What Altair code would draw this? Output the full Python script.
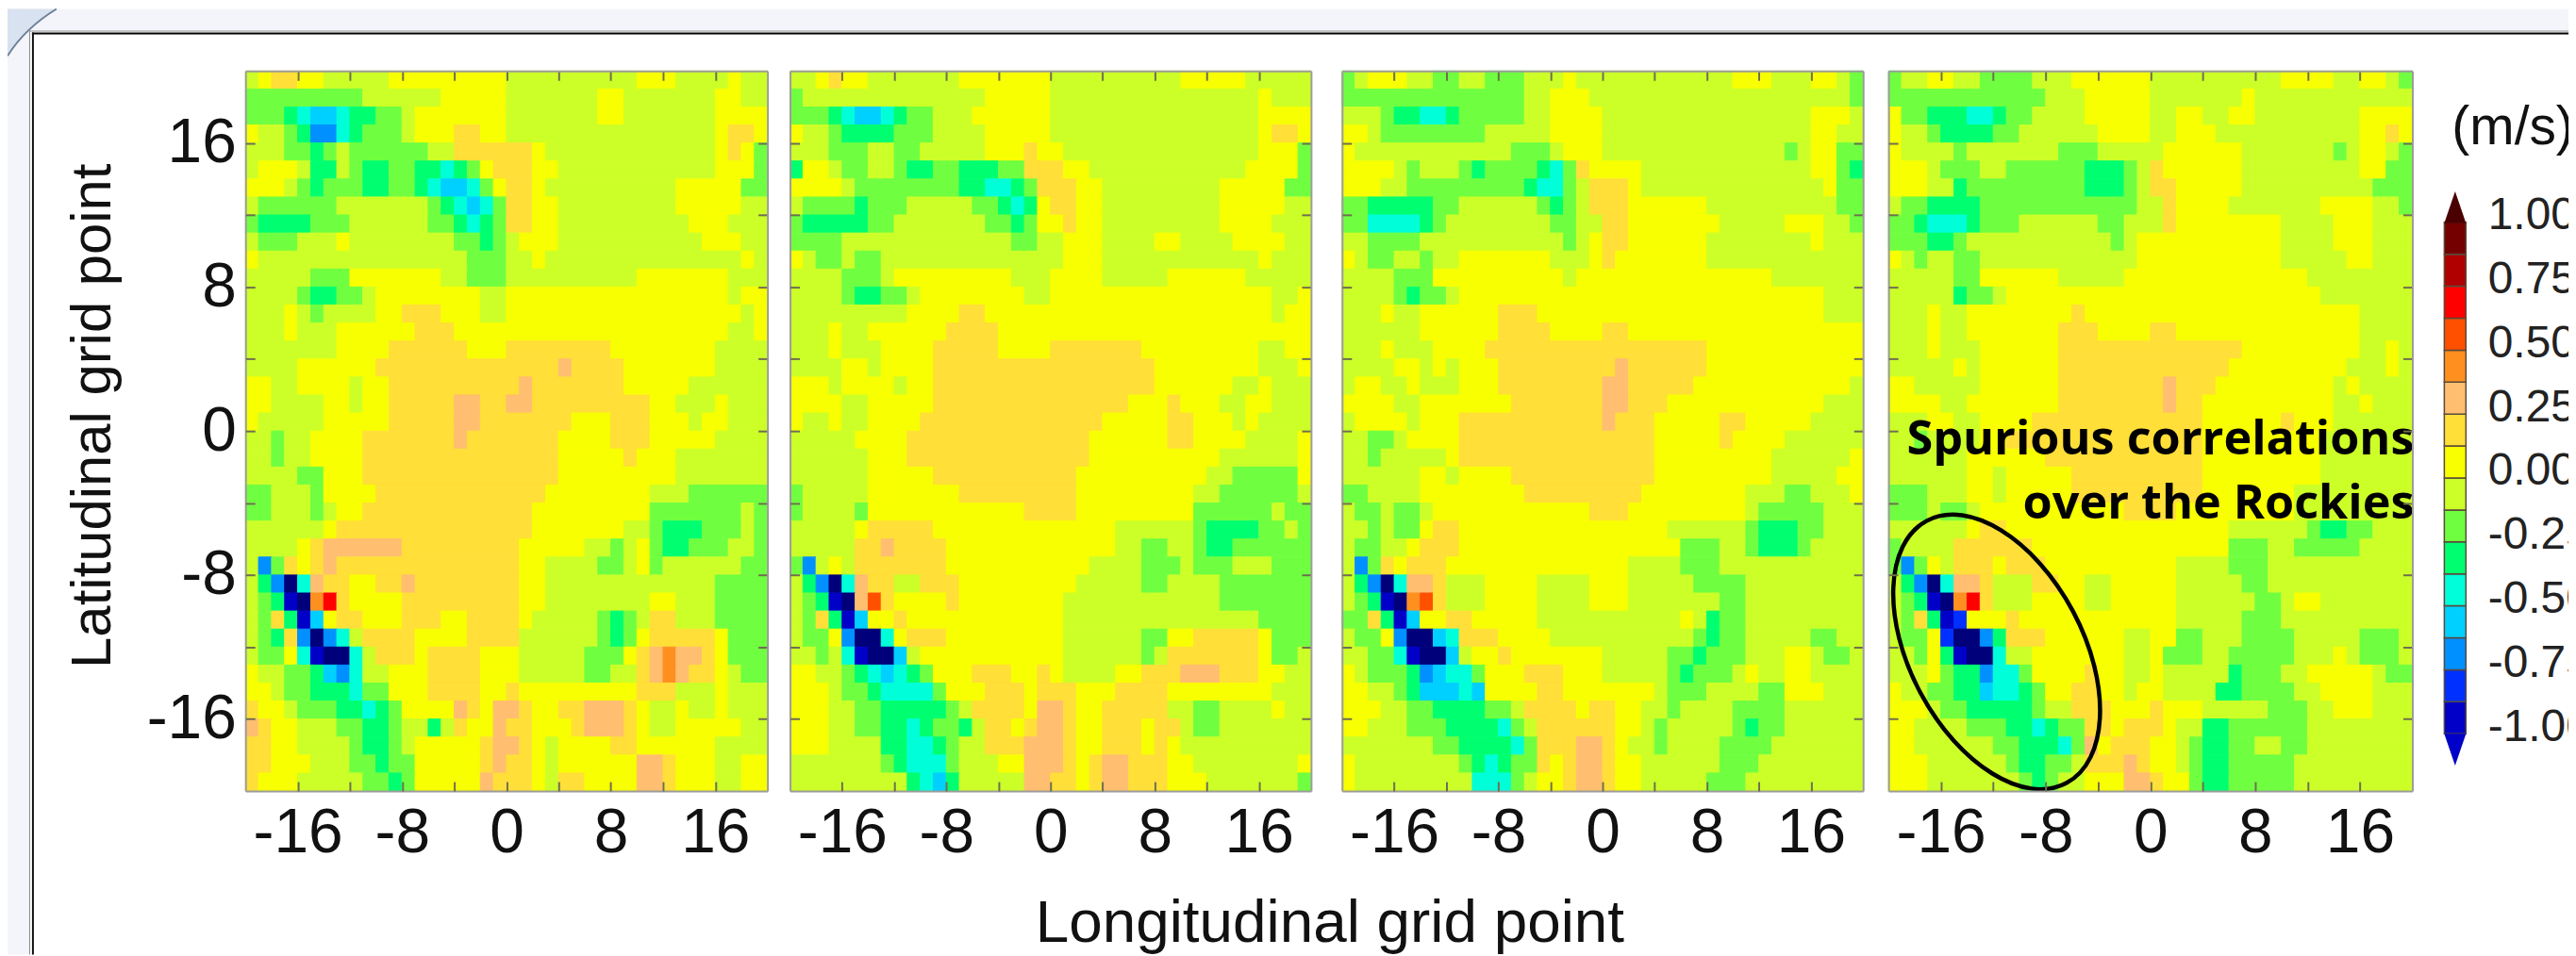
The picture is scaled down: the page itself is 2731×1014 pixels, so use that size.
import re
import pandas as pd
import altair as alt

W, H = 2723, 1006

# Level codes: a (< -1) ... r (> 1); each row lists "level + end column" runs
LEVELS = list("abcdefghijklmnopqr")
LEVEL_COLORS = ["#00007a", "#0000c8", "#0030ff", "#0090ff", "#00d0ff", "#00ffd8", "#00ff70", "#70ff40", "#ccff28",
                "#f8ff00", "#ffdf38", "#ffbe70", "#ff9020", "#ff5000", "#ff0000", "#b00000", "#750000", "#4a0000"]
BAR_LABELS = [-1.0, -0.75, -0.5, -0.25, 0.0, 0.25, 0.5, 0.75, 1.0]
BAR_EDGES = [-1.0, -0.875, -0.75, -0.625, -0.5, -0.375, -0.25, -0.125, 0.0, 0.125, 0.25, 0.375, 0.5, 0.625, 0.75, 0.875, 1.0]
X_LABELLED = [-16, -8, 0, 8, 16]
TICKS = [-16, -12, -8, -4, 0, 4, 8, 12, 16]
NOTE_LINES = ["Spurious correlations", "over the Rockies"]

PANEL_1 = [
"i1 j2 k4 j6 i11 j20 i30 j33 i37 j38 i40",
"h9 i15 j20 i27 j29 i36 j38 i40",
"h3 g4 f5 e7 f8 g10 h12 i13 j20 i27 j29 i36 j40",
"j1 i3 h4 g5 f5 d7 f8 g9 h12 i13 j16 k18 j20 i36 j37 k39 j40",
"i3 h5 g6 h7 i8 h14 i16 k22 j23 i36 j37 k38 j39 h40",
"i1 j4 i5 g7 i8 h9 g11 h13 g15 f16 g17 h18 j19 k22 j24 i36 j39 h40",
"j3 i4 h5 g6 h9 g11 h13 g14 f15 e17 f18 h19 j20 k22 j23 i33 j38 h40",
"i1 h7 i14 h15 g16 f17 e18 f19 h20 k22 j24 i33 j38 i40",
"h1 g5 h8 i14 h16 g17 f18 g19 h20 k22 j24 i34 j37 i40",
"i1 h4 i7 j8 i16 h18 g19 h20 i21 j24 i35 j38 i40",
"j1 i17 h20 i22 j23 i38 j39 i40",
"i5 h8 j15 i17 h20 i30 j37 i40",
"i4 h5 g7 h9 i10 j18 i20 j37 i38 j40",
"i3 j4 i5 h6 i10 j12 k15 j18 i20 j38 i39 j40",
"i3 j4 i7 j13 k16 j37 i39 j40",
"i7 j11 k17 j20 k28 j36 i40",
"i4 j6 j10 k24 l25 k29 j36 i40",
"j2 i4 j6 j8 i9 j11 k21 l22 k29 j34 i40",
"j2 i6 j8 i9 j11 k16 l18 k20 l22 k31 j33 i36 j37 i40",
"j1 i6 j11 k16 l18 k25 j28 k31 j34 i35 j37 i40",
"i2 h3 i5 j9 k16 l17 k24 j28 k31 j36 i40",
"i2 h3 i5 j9 k24 j29 k30 j33 i40",
"i4 h6 j9 k24 j33 i40",
"h2 i5 h6 j10 k23 j31 i34 h40",
"h2 i5 h6 i7 j9 k22 j31 h38 i39 h40",
"i6 j7 k22 j29 i31 h32 g35 h38 i39 h40",
"i4 j5 k6 l9 l12 k21 j26 i28 h29 i30 j31 h32 g34 h37 i39 h40",
"i1 d2 h3 k4 j5 k6 l7 k12 k21 j23 i27 h29 i30 j31 h32 i38 h40",
"i1 g2 d3 a4 f5 l6 k8 j10 k12 l13 k21 j23 i36 h40",
"i1 h2 g3 b4 a5 m6 o7 k8 j12 k21 j23 i31 j33 i36 h40",
"i1 h2 k3 g4 b5 e6 j7 k9 j12 k15 j17 k21 j22 i27 h28 g29 h30 i31 k33 i36 h40",
"i1 h2 g3 k4 d5 a6 d7 f8 i9 k13 j17 k21 i27 h28 g29 h30 j31 k36 j37 h40",
"i1 h3 j4 f5 b6 a8 f9 i10 k13 j14 k18 j21 i26 h29 j30 k31 l32 m33 l35 k36 j37 h40",
"j1 i3 h5 g6 e7 d8 f9 i11 j14 k18 j20 k20 j21 i26 h28 i30 k31 l32 m33 l34 k36 j37 i38 h40",
"j2 i3 h5 g8 f9 h11 j14 k18 j20 k21 j30 k33 i36 j37 i40",
"k1 j3 i4 h7 g9 f10 g11 h12 j16 l17 k18 j19 l21 k22 j24 k26 l29 k30 j31 i33 j34 i36 j37 i40",
"l1 k2 j4 i7 h9 g11 h12 i14 g15 i16 k17 j19 l20 k22 j25 k26 l29 k30 j31 i33 j38 i40",
"k2 j4 i8 h9 g11 h12 i13 j18 k19 l21 k22 j23 i24 j28 k30 j36 i40",
"k2 j5 i8 h10 g11 h13 j18 k19 l20 k22 j23 i24 j30 l32 k33 j36 i38 j40",
"k1 j4 i9 h11 g12 h13 j18 l19 k22 j23 i24 k26 j30 l32 k33 j36 i38 j40",
]

PANEL_2 = [
"i2 j3 k4 j6 i13 j20 i30 j35 i40",
"h1 i15 j20 i36 j37 i40",
"h3 g4 f5 e7 f8 g9 h11 i14 j20 i36 j40",
"j1 i3 h4 g8 h11 i15 j20 i36 j37 k39 j40",
"i3 h6 i8 h10 i15 j18 k19 j21 i36 j39 h40",
"g1 j3 i4 h6 i8 h9 g11 h13 g16 h18 k21 j23 i35 j39 h40",
"j4 i5 h13 g15 f17 g18 h19 k22 j24 i33 j38 h40",
"i1 h5 g6 h9 i14 h16 g17 f18 g19 j20 k22 j24 i33 j38 i40",
"h1 g6 h8 i15 h17 g18 h19 j21 k22 j24 i33 j37 i40",
"h4 i17 h19 i21 j24 i28 j30 i34 j38 i40",
"j1 i2 h4 i5 h7 i21 j24 i36 j37 i40",
"i4 h7 i8 j17 i20 j24 i29 j35 i40",
"i4 h5 g7 h9 i10 j18 i20 j37 i39 j40",
"i9 j13 k15 j37 i38 j40",
"i3 j4 i6 j12 k16 j36 j40",
"i3 j4 i7 j11 k16 j20 k27 j36 i38 j40",
"i4 j6 i7 j11 k28 j36 i39 j40",
"j3 i4 j8 i9 j11 k28 j34 i36 j37 i40",
"j3 j4 i6 j11 k26 j29 k30 j33 i35 j37 i40",
"j1 i3 j4 i6 j10 k24 j29 k31 j34 i35 j36 i40",
"i5 j9 k23 j29 k31 j35 i39 j40",
"i6 j9 k23 j33 i39 j40",
"i6 j8 i8 j11 k22 j32 i34 h39 j40",
"h1 i6 j8 j13 k22 j31 i33 h39 i40",
"h1 i5 h6 j18 k22 j31 h37 i38 h40",
"i5 j6 k11 j25 i31 h32 g36 h38 i39 h40",
"i5 k7 l8 k12 j25 i27 h29 i31 h32 g34 h40",
"h1 d2 i3 j4 i5 k12 j23 i27 h30 i31 h34 i37 h40",
"i1 g2 d3 a4 f5 l6 k8 i10 k13 j22 i27 h29 i33 h40",
"i1 h2 g3 b4 a5 l6 n7 k8 j12 k13 j21 i33 h40",
"i1 h2 k3 g4 b5 e6 j8 k9 j21 i36 h40",
"i1 h3 j4 d5 a7 f8 j9 k12 j21 i27 h29 j31 k36 j37 h40",
"i2 h3 i4 f5 b6 a8 e9 i10 j21 i27 h28 i29 k36 j37 h39 i40",
"j2 i4 h5 g6 f7 e8 f9 g10 h11 j14 k17 j19 k20 j21 i25 j27 k30 l33 k36 j38 i40",
"j3 i4 h6 g7 f11 h12 j15 k18 j19 k22 j25 k29 j37 i40",
"j3 i5 h7 g12 h13 i14 k18 j19 l21 k22 j24 k29 i31 h33 i37 j38 i40",
"j3 i5 h7 g9 f10 g11 h13 g14 i15 k17 j18 k19 l21 k22 j24 k27 j28 k30 i31 h33 i40",
"j3 i7 g9 f11 g12 h13 i15 k18 l21 k22 j24 k27 j28 k29 j30 i40",
"i7 h8 g9 f12 h13 i16 j18 l21 k22 j23 k24 l26 k29 j31 i39 j40",
"i9 g10 f11 e12 g13 i18 l20 k22 j23 k24 l26 k29 j32 i39 h40",
]

PANEL_3 = [
"h1 i2 j5 i7 h9 i11 h14 i17 j18 i30 j33 i36 j38 i39 h40",
"h14 i16 j19 i39 h40",
"i3 h4 g6 f8 g9 h14 i16 j20 i36 j39 i40",
"j2 i3 h11 i16 j20 i36 j38 i40",
"j1 i13 h16 i17 j20 i34 h35 i36 j38 h40",
"j4 i5 h6 i9 h10 g11 h15 g16 f17 h18 k19 j23 i36 j38 h39 g40",
"j3 i5 h14 g15 f17 h18 i19 k22 j23 i37 j38 h40",
"h2 g7 h9 i15 h16 g17 h18 i19 k22 j28 i38 h40",
"h2 f6 g7 h8 i16 h18 i20 k22 j29 i34 j37 i39 h40",
"i2 h6 i17 h18 i19 j20 k22 j28 i36 j37 i40",
"j1 i2 h4 i6 h7 i9 j16 i19 j20 k21 j28 i40",
"i4 h7 j17 i18 j33 i40",
"i4 h5 g6 h8 i9 j37 i40",
"i3 j4 i6 j12 k15 j37 i40",
"i6 j12 k16 j20 k22 j40",
"i3 j4 i7 j11 k28 j40",
"i4 j6 i7 j8 i9 j12 k21 l22 k28 j40",
"i1 j3 i5 j6 i9 j12 k20 l22 k27 j39 i40",
"j4 i6 j13 k20 l22 k25 j37 i40",
"i1 j5 i6 j9 k20 l21 k24 j29 k31 j36 i40",
"i2 h4 i5 j9 k24 j29 k30 j34 i40",
"i2 h3 i8 j9 k24 j33 i39 j40",
"i6 j8 i9 j13 k24 j33 i38 j40",
"h2 i6 j14 k23 j31 i34 h36 i39 j40",
"i1 h3 i4 h6 i7 j19 k22 j31 i32 h37 i40",
"i2 h3 i4 h6 j7 k9 j25 i31 h32 g35 h37 i40",
"i1 h3 i5 j6 k9 j26 h29 i31 h32 g35 h36 i40",
"i1 d2 h3 k4 j5 k8 j22 i26 h29 i40",
"i1 g2 d3 a4 f5 l7 k8 i11 j15 i19 j22 i27 h31 i40",
"i1 h2 g3 b4 a5 m6 n7 k8 i11 j15 i19 j22 i29 h31 i40",
"h2 k3 g4 b5 e6 j8 k10 j15 i26 j27 i28 g29 h31 i40",
"i1 h3 j4 d5 a7 e8 f9 k12 j16 i27 h28 g29 h31 i36 h38 i40",
"i2 h4 f5 b6 a8 e9 i10 j12 k13 j20 i25 h27 g28 h31 i34 j36 i37 h39 i40",
"j1 i2 h5 g6 d7 e8 f10 h11 j14 k17 j20 i25 h26 g27 h30 i31 j32 i34 j36 i40",
"j2 i4 h5 g6 e9 f10 e11 j15 k17 j20 j24 i25 h28 i32 h34 j37 i40",
"j3 i5 h7 g11 h13 i14 k18 j19 k21 j23 i25 h26 i30 h34 i40",
"j2 i5 h8 g12 f13 h14 i15 k18 k21 j23 i24 h25 i30 h31 g32 h34 i40",
"i7 h9 g13 f14 h15 k17 k18 l20 k21 j22 i24 h25 i29 h33 i40",
"j1 i9 h10 g11 f12 g13 h15 k16 j17 k18 l20 k21 j23 i29 h32 i40",
"j1 i10 f13 h14 i15 j17 k18 l20 k21 j23 i28 h31 i40",
]

PANEL_4 = [
"h1 i3 j5 i7 h11 i14 j20 i30 j34 i36 j38 i39 h40",
"h12 i15 j20 i27 j28 i40",
"j1 h3 g6 f8 g9 h11 i15 j20 i22 j24 i26 j28 i36 j40",
"j1 i3 h4 g8 h10 i16 j20 i22 j25 i36 j38 k39 j40",
"j1 i5 h6 i13 h16 i21 j27 i34 h35 i36 j38 i39 h40",
"j3 i4 h7 i9 h15 g18 h19 i20 k21 j27 i36 j38 h40",
"j3 i5 g6 h15 g18 h19 i20 k22 j27 i37 h40",
"i1 h3 g7 h17 g17 h19 i21 k22 j26 i33 j37 i39 h40",
"h2 g3 f6 g7 h10 i16 h18 i21 k22 j30 i34 j37 i40",
"h3 g5 h6 i17 h18 i19 j30 i34 j37 i40",
"j1 i2 h3 i5 h7 i19 j30 i35 j37 i40",
"i5 h7 j13 i18 j32 i40",
"i5 g6 h8 i9 j33 i40",
"i3 j4 i6 j14 k15 j36 i40",
"i3 j4 i6 j13 k16 j20 k22 j36 i40",
"i3 j4 i7 j13 k27 j36 i38 j39 i40",
"i5 j6 i7 j13 k26 j35 i38 j39 i40",
"j2 i7 j13 k21 l22 k25 j34 i35 j36 i40",
"j3 j4 i6 j13 k21 l22 k24 j34 i36 j37 i40",
"i3 j5 i7 j11 k24 j30 k31 j34 i40",
"i2 h3 i7 j9 k24 j33 i40",
"i6 j8 j12 k24 j33 i40",
"i6 j8 i9 j14 k24 j33 i40",
"h3 i6 j8 i9 j14 k24 j31 i40",
"h3 i4 h6 i7 j18 k22 j31 i40",
"i6 j7 k9 j26 i32 h33 g35 h37 i40",
"h1 i5 k11 j26 h29 i31 h36 i40",
"h1 d2 h3 j4 i5 k8 j9 k12 j22 i26 h29 i40",
"i1 g2 d3 a4 f5 l7 k8 i11 k13 j15 i17 j22 i27 h29 i40",
"i1 h2 g3 b4 a5 m6 o7 k8 i11 j15 i17 j22 i28 h30 i31 j33 i40",
"i1 h2 k3 g4 b5 c6 j9 k10 j22 i27 h30 i40",
"i1 h3 j4 c5 a7 d8 g9 k12 j18 i20 j22 h24 i27 h31 i36 h39 i40",
"i2 h3 j4 g5 b6 a8 f9 i11 j18 i20 j21 h24 i26 h31 i34 j35 i36 h39 i40",
"i3 j4 h5 g7 d8 f10 h11 j15 k16 j18 i20 j21 i26 g27 h30 i32 j37 i38 h40",
"j1 i3 h5 g7 e8 f10 g11 h12 j14 k16 j18 i19 j21 i25 g27 h31 i33 j37 i40",
"j3 i4 h6 g11 h12 i14 k17 j20 k21 j24 i29 h32 i34 j37 i40",
"j2 i6 h9 g11 f12 g13 h15 k17 j18 k21 j22 i24 g26 h32 i40",
"j2 i8 h10 g13 f14 h15 l16 j17 k20 j22 i23 h24 g26 h28 i30 h32 i40",
"j3 i9 h10 g12 h14 i15 k18 l19 k20 j22 i23 h24 g26 h31 i40",
"j3 i10 h11 g12 h13 i15 j18 l20 k21 j23 h24 g26 h31 i40",
]

PANELS = [(PANEL_1, 253, 808), (PANEL_2, 832, 1386), (PANEL_3, 1419, 1973), (PANEL_4, 2000, 2557)]
TOP, BOTTOM = 66, 832
FONT = "Liberation Sans"
INT_LABEL = "toString(datum.value)"
BAR_LABEL = "datum.value < 0 ? '-' + format(-datum.value, '.2f') : format(datum.value, '.2f')"


def runs(rows):
    out = []
    for r, row in enumerate(rows):
        start = 0
        for lvl, end in re.findall(r"([a-r])(\d+)", row):
            end = int(end)
            if end <= start:
                continue
            out.append({"x0": start - 20, "x1": end - 20, "y0": 20 - r, "y1": 19 - r, "lvl": lvl})
            start = end
        if start < 40:
            out[-1]["x1"] = 20
    return pd.DataFrame(out)


color_scale = alt.Scale(domain=LEVELS, range=LEVEL_COLORS)
ticks_df = pd.DataFrame({"t": TICKS})
one = pd.DataFrame({"k": [0]})
DOM = "#9c9c9c"
TICK = "#6f6f50"


def panel(rows, xl, xr, with_y):
    xs = alt.Scale(domain=[-20, 20], range=[xl, xr], nice=False, zero=False)
    ys = alt.Scale(domain=[-20, 20], range=[BOTTOM, TOP], nice=False, zero=False)
    ax_x = alt.Axis(orient="bottom", offset=BOTTOM - H, values=X_LABELLED, tickSize=0, labelFontSize=66, labelFont=FONT,
                    labelColor="#111", labelPadding=13, title=None, grid=False, domainColor=DOM, domainWidth=2, zindex=1,
                    labelFlush=False, labelOverlap=False, labelExpr=INT_LABEL)
    if with_y:
        ax_y = alt.Axis(orient="left", offset=-xl, values=[-16, -8, 0, 8, 16], tickSize=0, labelFontSize=66, labelFont=FONT,
                        labelColor="#111", labelPadding=10, title=None, grid=False, domainColor=DOM, domainWidth=2,
                        zindex=1, labelOverlap=False, labelExpr=INT_LABEL)
    else:
        ax_y = alt.Axis(orient="left", offset=-xl, values=TICKS, tickSize=0, labels=False, title=None, grid=False,
                        domainColor=DOM, domainWidth=2, zindex=1)
    heat = alt.Chart(runs(rows)).mark_rect(strokeWidth=1).encode(
        x=alt.X("x0:Q", scale=xs, axis=ax_x), x2="x1:Q",
        y=alt.Y("y0:Q", scale=ys, axis=ax_y), y2="y1:Q",
        color=alt.Color("lvl:N", scale=color_scale, legend=None),
        stroke=alt.Stroke("lvl:N", scale=color_scale, legend=None),
    )
    up = alt.Chart(ticks_df).mark_point(opacity=0).encode(
        x=alt.X("t:Q", scale=xs, axis=alt.Axis(orient="top", offset=-BOTTOM, values=TICKS, labels=False, domain=False, tickSize=10,
                                               tickColor=TICK, tickWidth=2, title=None, grid=False, zindex=1)),
        y=alt.Y("t:Q", scale=ys, axis=alt.Axis(orient="right", offset=xl - W, values=TICKS, labels=False, domain=False, tickSize=10,
                                               tickColor=TICK, tickWidth=2, title=None, grid=False, zindex=1)),
    )
    down = alt.Chart(ticks_df).mark_point(opacity=0).encode(
        x=alt.X("t:Q", scale=xs, axis=alt.Axis(orient="bottom", offset=TOP - H, values=TICKS, labels=False, tickSize=10,
                                               tickColor=TICK, tickWidth=2, title=None, grid=False, zindex=1,
                                               domainColor=DOM, domainWidth=2)),
        y=alt.Y("t:Q", scale=ys, axis=alt.Axis(orient="left", offset=-xr, values=TICKS, labels=False, tickSize=10,
                                               tickColor=TICK, tickWidth=2, title=None, grid=False, zindex=1,
                                               domainColor=DOM, domainWidth=2)),
    )
    return [heat, up, down]


# page furniture
BAND = "#f3f5fa"
def band(x0, x1, y0, y1, col):
    return alt.Chart(one).mark_rect(fill=col).encode(x=alt.value(x0), x2=alt.value(x1), y=alt.value(y0), y2=alt.value(y1))

furniture = [
    band(0, W, 0, 23, BAND),
    band(0, 23, 0, H, BAND),
    alt.Chart(one).mark_point(filled=True, fill="#d9e2f0", opacity=1, size=4, shape="M 0 50 Q 18 21 52 0 L 0 0 Z").encode(x=alt.value(0), y=alt.value(0)),
    alt.Chart(one).mark_point(filled=False, stroke="#6d7f98", strokeWidth=2, opacity=1, size=4, shape="M 0 50 Q 18 21 52 0").encode(x=alt.value(0), y=alt.value(0)),
    band(23, W, 23, 24, "#8a8a8a"),
    band(23, 24, 23, H, "#8a8a8a"),
    band(26, W, 25, 27, "#000000"),
    band(26, 28, 25, H, "#111111"),
]

# colour bar
bar_df = pd.DataFrame({"lo": BAR_EDGES[:-1], "hi": BAR_EDGES[1:], "lvl": LEVELS[1:17]})
bar_y = alt.Scale(domain=[-1, 1], range=[771, 227], nice=False, zero=False)
bar = alt.Chart(bar_df).mark_rect(strokeWidth=1.5).encode(
    x=alt.value(2591), x2=alt.value(2614),
    y=alt.Y("lo:Q", scale=bar_y, axis=alt.Axis(orient="right", offset=2614 - W, values=BAR_LABELS, labelExpr=BAR_LABEL, tickSize=0, domain=False,
                                                labelFontSize=48, labelFont=FONT, labelColor="#222", labelPadding=23,
                                                labelOffset=-7, title=None, grid=False, labelOverlap=False, labelFlush=False)),
    y2="hi:Q",
    color=alt.Color("lvl:N", scale=color_scale, legend=None),
    stroke=alt.value("#5a4a3a"),
)
TRI_UP = "M -0.34 0.5 L 0 -0.5 L 0.34 0.5 Z"
TRI_DOWN = "M -0.34 -0.5 L 0 0.5 L 0.34 -0.5 Z"
tri_up = alt.Chart(one).mark_point(filled=True, fill=LEVEL_COLORS[17], opacity=1, size=4624, shape=TRI_UP).encode(x=alt.value(2602.5), y=alt.value(211))
tri_dn = alt.Chart(one).mark_point(filled=True, fill=LEVEL_COLORS[1], opacity=1, size=4624, shape=TRI_DOWN).encode(x=alt.value(2602.5), y=alt.value(788))

# texts
def text(label, x, y, size, align="center", angle=0, weight=400, font=FONT, color="#111"):
    df = pd.DataFrame({"s": [label]})
    return alt.Chart(df).mark_text(fontSize=size, align=align, baseline="alphabetic", angle=angle, fontWeight=weight, font=font, color=color).encode(
        x=alt.value(x), y=alt.value(y), text="s:N")

texts = [
    text("Latitudinal grid point", 109, 433, 60, angle=270),
    text("Longitudinal grid point", 1406, 992, 64),
    text("(m/s)", 2599, 144, 57, align="left"),
    text(NOTE_LINES[0], 2559, 474, 50.5, align="right", weight=700, font="Open Sans", color="#000"),
    text(NOTE_LINES[1], 2559, 542, 50.5, align="right", weight=700, font="Open Sans", color="#000"),
]
ellipse = alt.Chart(one).mark_point(
    filled=False, stroke="#000000", strokeWidth=4.5, opacity=1, size=399424, angle=62,
    shape="M -0.5 0 A 0.5 0.291 0 1 1 0.5 0 A 0.5 0.291 0 1 1 -0.5 0 Z",
).encode(x=alt.value(2115), y=alt.value(684))

layers = list(furniture)
for i, (rows, xl, xr) in enumerate(PANELS):
    layers += panel(rows, xl, xr, i == 0)
layers += [bar, tri_up, tri_dn] + texts + [ellipse]

chart = alt.layer(*layers).resolve_scale(x="independent", y="independent").properties(
    width=W, height=H, padding=0, autosize=alt.AutoSizeParams(type="none"), background="white",
).configure_view(stroke=None)

chart.save("out.html", embed_options={"renderer": "svg", "actions": False})
